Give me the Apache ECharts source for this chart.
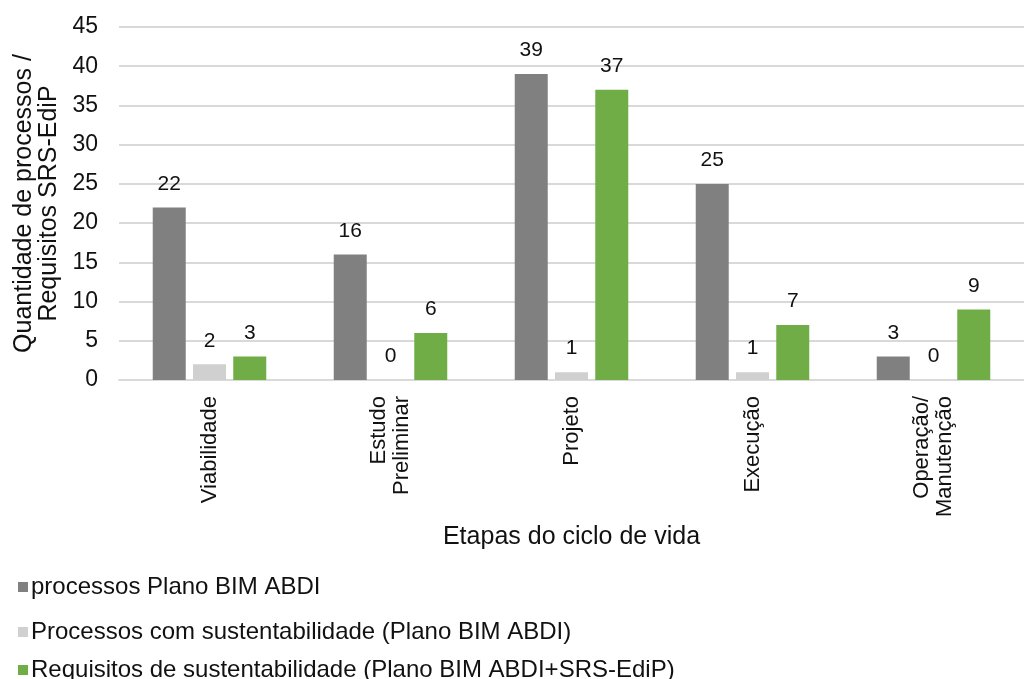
<!DOCTYPE html>
<html>
<head>
<meta charset="utf-8">
<script src="https://cdn.jsdelivr.net/npm/echarts@6/dist/echarts.min.js"></script>
<style>
  html, body { margin: 0; padding: 0; background: #fff; }
  #chart { width: 1024px; height: 679px; }
</style>
</head>
<body>
<div id="chart"></div>
<script>
// Life-cycle stages and counts per series
const categories = ['Viabilidade', 'Estudo\nPreliminar', 'Projeto', 'Execução', 'Operação/\nManutenção'];
const processosPlano = [22, 16, 39, 25, 3];
const processosSustent = [2, 0, 1, 1, 0];
const requisitosSustent = [3, 6, 37, 7, 9];
const seriesNames = [
  'processos Plano BIM ABDI',
  'Processos com sustentabilidade (Plano BIM ABDI)',
  'Requisitos de sustentabilidade (Plano BIM ABDI+SRS-EdiP)'
];
const colors = ['#808080', '#d0d0d0', '#70ad47'];

const font = 'Liberation Sans, Arial, sans-serif';
const ink = '#111';
const labelStyle = { show: true, position: 'top', distance: 13, fontFamily: font, fontSize: 21, color: ink };

function legendAt(name, top) {
  return {
    data: [name], left: 13, top: top, orient: 'vertical',
    itemWidth: 10, itemHeight: 10, itemGap: 0,
    icon: 'rect',
    textStyle: { fontFamily: font, fontSize: 24, color: ink, padding: [0, 0, 0, -2] }
  };
}

const chart = echarts.init(document.getElementById('chart'));
chart.setOption({
  animation: false,
  color: colors,
  textStyle: { fontFamily: font },
  grid: { left: 119, top: 27, width: 916, height: 353 },
  legend: [
    legendAt(seriesNames[0], 570),
    legendAt(seriesNames[1], 615),
    legendAt(seriesNames[2], 653)
  ],
  xAxis: {
    type: 'category',
    data: categories,
    axisLine: { lineStyle: { color: '#d9d9d9', width: 2 } },
    axisTick: { show: false },
    axisLabel: { rotate: 90, margin: 16, fontFamily: font, fontSize: 22, color: ink, lineHeight: 23 },
    name: 'Etapas do ciclo de vida',
    nameLocation: 'middle',
    nameGap: 140,
    nameTextStyle: { fontFamily: font, fontSize: 25, color: ink }
  },
  yAxis: {
    type: 'value',
    min: 0, max: 45, interval: 5,
    axisLine: { show: false },
    axisTick: { show: false },
    splitLine: { lineStyle: { color: '#d9d9d9', width: 2 } },
    axisLabel: { margin: 21, fontFamily: font, fontSize: 23, color: ink },
    name: 'Quantidade de processos /\nRequisitos SRS-EdiP',
    nameLocation: 'middle',
    nameGap: 54,
    nameTextStyle: { fontFamily: font, fontSize: 25, color: ink, lineHeight: 25 }
  },
  series: [
    { name: seriesNames[0], type: 'bar', data: processosPlano, barWidth: 33, barGap: '22%', label: labelStyle },
    { name: seriesNames[1], type: 'bar', data: processosSustent, barWidth: 33, barGap: '22%', label: labelStyle },
    { name: seriesNames[2], type: 'bar', data: requisitosSustent, barWidth: 33, barGap: '22%', label: labelStyle }
  ]
});
</script>
</body>
</html>
